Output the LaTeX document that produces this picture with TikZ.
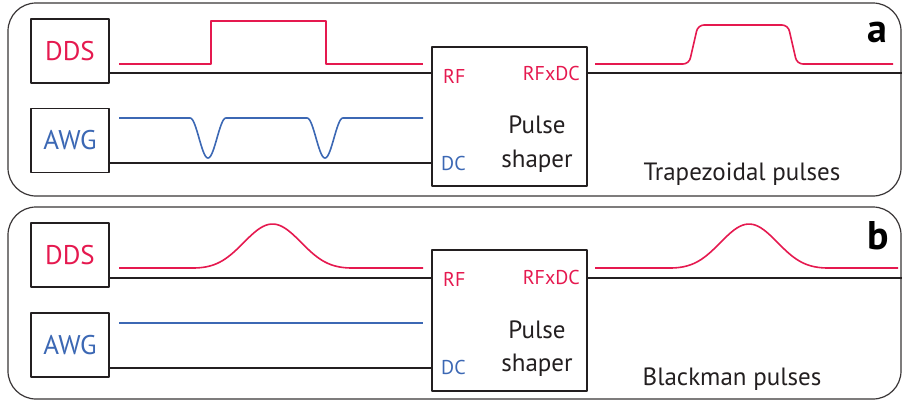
\documentclass[tikz,border=0pt]{standalone}
\usepackage{fontspec}
\setmainfont{PT Sans}
\usepackage{xcolor}
\definecolor{rfpink}{HTML}{E5194F}
\definecolor{dcblue}{HTML}{3C68B4}
\definecolor{wire}{HTML}{231F20}
\usepackage{tikz}
\usetikzlibrary{positioning, calc}

\begin{document}
\begin{tikzpicture}[x=1pt, y=-1pt, line join=round,
  panel/.style={draw=wire!90, line width=1.2pt, rounded corners=28pt, minimum width=893pt},
  srcbox/.style={draw=wire, line width=1.5pt, minimum width=78pt, minimum height=64pt, font=\fontsize{27}{27}\selectfont},
  shaperbox/.style={draw=wire, line width=1.5pt, minimum width=155pt},
  port/.style={inner sep=0pt, font=\fontsize{20}{20}\selectfont},
  caption/.style={anchor=base, inner sep=0pt, font=\fontsize{25}{25}\selectfont, text=wire},
  tag/.style={inner sep=0pt, font=\fontsize{40}{40}\selectfont\bfseries},
  wireline/.style={draw=wire, line width=1.8pt},
  signal/.style={line width=1.6pt}]
  \useasboundingbox (0,0) rectangle (902,400);

  % panel a: trapezoidal pulses
  \node[panel, minimum height=193pt] (panelA) at (454.5,99.5) {};
  \node[srcbox, text=rfpink] (ddsA) at (70,51) {DDS};
  \node[srcbox, text=dcblue] (awgA) at (70,140.5) {AWG};
  \node[shaperbox, minimum height=139pt] (shA) at (509.5,116.5) {};
  \node[port, anchor=west, rfpink] (rfA) at (443,76) {RF};
  \node[port, anchor=east, rfpink] (outA) at (580,73) {RFxDC};
  \node[port, anchor=west, dcblue] (dcA) at (441,163) {DC};
  \node[caption] (pulA) at (537,133) {Pulse};
  \node[caption] (shpA) at (537,167) {shaper};
  \node[caption] (capA) at (742,180) {Trapezoidal pulses};
  \node[tag] (tagA) at (877,32) {a};

  \draw[wireline] ([yshift=11pt]ddsA.south east) coordinate (rfinA) -- (rfinA -| shA.west);
  \draw[wireline] ([yshift=10pt]awgA.south east) coordinate (dcinA) -- (dcinA -| shA.west);
  \draw[wireline] (shA.east |- rfinA) -- (rfinA -| panelA.east);

  \draw[signal, rfpink] (119,64) -- (211,64) -- (211,21) -- (326,21) -- (326,64) -- (423,64);
  \draw[signal, dcblue] (119,118) -- (190,118)
    -- plot[domain=-18:18, samples=50] ({208+\x}, {118+20*(1+cos(10*\x))})
    -- (307,118)
    -- plot[domain=-18:18, samples=50] ({325+\x}, {118+20*(1+cos(10*\x))})
    -- (423,118);
  \draw[signal, rfpink, rounded corners=6pt] (595,64) -- (689,64) -- (698,25) -- (788,25) -- (797,64) -- (893,64);

  % panel b: blackman pulses
  \node[panel, minimum height=192pt] (panelB) at (454.5,303) {};
  \node[srcbox, text=rfpink] (ddsB) at (70,255) {DDS};
  \node[srcbox, text=dcblue] (awgB) at (70,345) {AWG};
  \node[shaperbox, minimum height=141pt] (shB) at (509.5,320.5) {};
  \node[port, anchor=west, rfpink] (rfB) at (443,279) {RF};
  \node[port, anchor=east, rfpink] (outB) at (580,277) {RFxDC};
  \node[port, anchor=west, dcblue] (dcB) at (441,367) {DC};
  \node[caption] (pulB) at (537,338) {Pulse};
  \node[caption] (shpB) at (537,371) {shaper};
  \node[caption] (capB) at (732,385) {Blackman pulses};
  \node[tag] (tagB) at (878,236) {b};

  \draw[wireline] ([yshift=10pt]ddsB.south east) coordinate (rfinB) -- (rfinB -| shB.west);
  \draw[wireline] ([yshift=10pt]awgB.south east) coordinate (dcinB) -- (dcinB -| shB.west);
  \draw[wireline] (shB.east |- rfinB) -- (rfinB -| panelB.east);

  \draw[signal, rfpink] (119,268) -- (193,268)
    -- plot[domain=0:1, samples=60] ({193+159*\x}, {268-44*(0.42-0.5*cos(360*\x)+0.08*cos(720*\x))})
    -- (423,268);
  \draw[signal, dcblue] (119,323) -- (423,323);
  \draw[signal, rfpink] (595,268) -- (670,268)
    -- plot[domain=0:1, samples=60] ({670+158*\x}, {268-44*(0.42-0.5*cos(360*\x)+0.08*cos(720*\x))})
    -- (898,268);
\end{tikzpicture}
\end{document}
